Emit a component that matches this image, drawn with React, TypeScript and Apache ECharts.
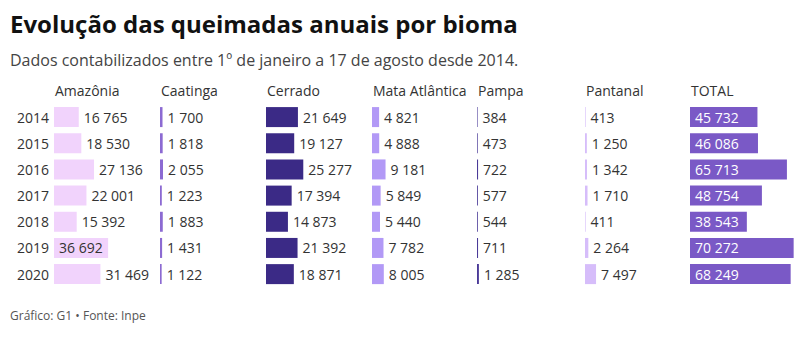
import React, { useEffect, useRef } from "react";
import * as echarts from "echarts";

const years = ["2014", "2015", "2016", "2017", "2018", "2019", "2020"];
const biomes = ["Amazônia", "Caatinga", "Cerrado", "Mata Atlântica", "Pampa", "Pantanal", "TOTAL"];
const amazonia = [16765, 18530, 27136, 22001, 15392, 36692, 31469];
const caatinga = [1700, 1818, 2055, 1223, 1883, 1431, 1122];
const cerrado = [21649, 19127, 25277, 17394, 14873, 21392, 18871];
const mataAtlantica = [4821, 4888, 9181, 5849, 5440, 7782, 8005];
const pampa = [384, 473, 722, 577, 544, 711, 1285];
const pantanal = [413, 1250, 1342, 1710, 411, 2264, 7497];
const total = [45732, 46086, 65713, 48754, 38543, 70272, 68249];

const seriesValues = [amazonia, caatinga, cerrado, mataAtlantica, pampa, pantanal, total];
const colors = ["#f1d3fc", "#8c6ad2", "#3b2a86", "#b299f6", "#4a3a98", "#d6bdfa", "#7a59c6"];
const colLeft = [54, 160, 266, 372, 477, 585, 690];

const FONT = "Open Sans";
const GRID_W = 104;
const PX_PER_UNIT = 678;
const fmt = (v: number) => String(v).replace(/\B(?=(\d{3})+(?!\d))/g, " ");

export default function App() {
  const ref = useRef<HTMLDivElement>(null);
  useEffect(() => {
    if (!ref.current) return;
    const chart = echarts.init(ref.current, null, { renderer: "svg" });
    const top = 104;
    const height = 183.2;
    const grids = colLeft.map((l) => ({ left: l, top, width: GRID_W, height }));
    const xAxes = colLeft.map((_, i) => ({
      type: "value",
      gridIndex: i,
      min: 0,
      max: GRID_W * PX_PER_UNIT,
      show: false,
    }));
    const yAxes = colLeft.map((_, i) => ({
      type: "category",
      gridIndex: i,
      data: years,
      inverse: true,
      show: i === 0,
      axisLine: { show: false },
      axisTick: { show: false },
      splitLine: { show: false },
      axisLabel: {
        show: i === 0,
        margin: 5,
        fontFamily: FONT,
        fontSize: 14,
        color: "#333",
      },
    }));
    const series = seriesValues.map((vals, i) => ({
      type: "bar",
      xAxisIndex: i,
      yAxisIndex: i,
      barWidth: 20,
      itemStyle: { color: colors[i] },
      label: {
        show: true,
        position: i === 6 ? "insideLeft" : "right",
        distance: 5,
        fontFamily: FONT,
        fontSize: 14,
        color: i === 6 ? "#fff" : "#333",
        formatter: (p: any) => fmt(p.value),
      },
      data: vals.map((v) =>
        i !== 6 && v > 35000
          ? { value: v, label: { position: "insideLeft", distance: 5, color: "#333" } }
          : v
      ),
    }));
    const headers = biomes.map((b, i) => ({
      type: "text",
      left: colLeft[i] + 1,
      top: 83,
      style: { text: b, font: `14px "${FONT}"`, fill: "#333" },
    }));
    chart.setOption({
      animation: false,
      backgroundColor: "#fff",
      grid: grids,
      xAxis: xAxes,
      yAxis: yAxes,
      series,
      graphic: [
        {
          type: "text",
          left: 10,
          top: 11,
          style: { text: "Evolução das queimadas anuais por bioma", font: `bold 24px "${FONT}"`, fill: "#111" },
        },
        {
          type: "text",
          left: 10,
          top: 52,
          style: {
            text: "Dados contabilizados entre 1º de janeiro a 17 de agosto desde 2014.",
            font: `16px "${FONT}"`,
            fill: "#444",
          },
        },
        ...headers,
        {
          type: "text",
          left: 10,
          top: 309,
          style: { text: "Gráfico: G1 • Fonte: Inpe", font: `12px "${FONT}"`, fill: "#555" },
        },
      ],
    });
    return () => chart.dispose();
  }, []);
  return (
    <div
      ref={ref}
      style={{ position: "fixed", left: 0, top: 0, width: 800, height: 360 }}
    />
  );
}
